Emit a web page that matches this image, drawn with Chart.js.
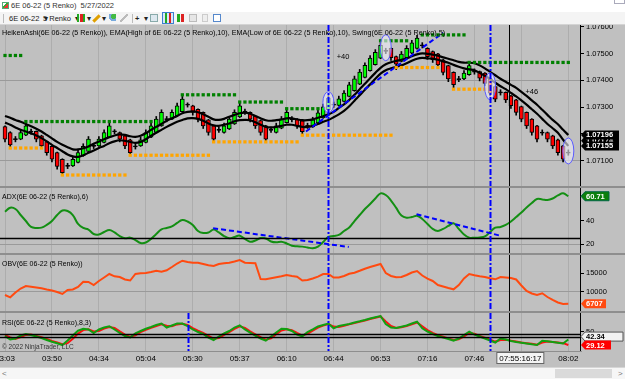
<!DOCTYPE html>
<html>
<head>
<meta charset="utf-8">
<script src="https://cdn.jsdelivr.net/npm/chart.js@4.4.1/dist/chart.umd.min.js"></script>
<style>
*{box-sizing:border-box}
html,body{margin:0;padding:0;width:625px;height:379px;overflow:hidden;background:#c0c0c0;font-family:'Liberation Sans',Arial,sans-serif;}
canvas{position:absolute;left:0}
.lbl{position:absolute;left:2px;font-size:7px;color:#000;white-space:nowrap;line-height:9px}
.sep{position:absolute;left:0;width:625px;background:#8e8e8e}
#hdr{position:absolute;left:0;top:0;width:625px;height:12px;background:#fff}
#tb{position:absolute;left:0;top:12px;width:625px;height:13px;background:#f4f4f4;border-bottom:1px solid #d4d4d4}
.tbt{position:absolute;top:1px;font-size:7.5px;color:#222;line-height:11px;white-space:nowrap}
.ic{position:absolute;top:2px;width:8px;height:8px}
#sb{position:absolute;left:0;top:367px;width:625px;height:12px;background:#f6f6f6;border-top:1px solid #d6d6d6}
</style>
</head>
<body>
<div id="hdr">
  <div style="position:absolute;left:2px;top:2px;width:7px;height:7px;border:1px solid #5a7;background:linear-gradient(135deg,#fff 40%,#3a3 40%,#3a3 60%,#e33 60%)"></div>
  <div style="position:absolute;left:11px;top:1px;font-size:7.5px;color:#333;line-height:10px;white-space:nowrap">6E 06-22 (5 Renko)&nbsp; 5/27/2022</div>
  <div style="position:absolute;left:614px;top:0;width:11px;height:4px;border:1px solid #aab;border-top:none;background:#fff"></div>
</div>
<div id="tb">
  <div style="position:absolute;left:3px;top:2px;width:1px;height:9px;background:#bbb"></div>
  <div class="tbt" style="left:9px">6E 06-22 &nbsp;▾</div>
  <div class="tbt" style="left:43px">5 Renko &nbsp;▾</div>
  <div class="ic" style="left:77px;background:linear-gradient(to right,#2a2 0 30%,transparent 30% 40%,#d22 40% 70%,transparent 70% 80%,#2a2 80%)"></div>
  <div class="tbt" style="left:87px">▾</div>
  <div class="ic" style="left:92px;width:9px;height:3px;top:5px;background:#e0a000;transform:rotate(-45deg)"></div>
  <div class="tbt" style="left:102px">▾</div>
  <div class="ic" style="left:108px;background:radial-gradient(circle at 70% 30%,#4b4 0 35%,#7ad 36% 60%,transparent 61%)"></div>
  <div class="ic" style="left:120px;background:linear-gradient(135deg,transparent 40%,#bbb 40% 60%,transparent 60%)"></div>
  <div style="position:absolute;left:132px;top:2px;width:1px;height:9px;background:#bbb"></div>
  <div class="tbt" style="left:135px;font-weight:bold">+</div>
  <div class="tbt" style="left:144px">▾</div>
  <div class="ic" style="left:150px;border:1px solid #8aa;background:#dde8ef"></div>
  <div class="ic" style="left:162px;top:0px;width:12px;height:12px;border:1px solid #3c7fd0;background:linear-gradient(to right,#d8e8f8 0 20%,#2a2 20% 40%,#d8e8f8 40% 55%,#d22 55% 75%,#d8e8f8 75%)"></div>
  <div class="ic" style="left:177px;background:linear-gradient(to right,#2a2 0 35%,transparent 35% 55%,#d22 55% 90%,transparent 90%)"></div>
  <div class="ic" style="left:189px;border:1px solid #bbb;background:#e6e6e6"></div>
  <div class="ic" style="left:202px;width:6px;border:1px solid #ccc;background:#eee"></div>
  <div class="ic" style="left:213px;border:1px solid #58c;background:#fff"></div>
</div>

<canvas id="cPrice" width="625" height="161" style="top:25px"></canvas>
<canvas id="cAdx" width="625" height="65" style="top:188px"></canvas>
<canvas id="cObv" width="625" height="56" style="top:255px"></canvas>
<canvas id="cRsi" width="625" height="53" style="top:313px"></canvas>

<div class="sep" style="top:186px;height:2px"></div>
<div class="sep" style="top:253px;height:2px"></div>
<div class="sep" style="top:311px;height:2px"></div>
<div class="sep" style="top:351px;height:1px;width:582px"></div>

<div class="lbl" style="top:28px;font-size:7.2px">HeikenAshi(6E 06-22 (5 Renko)), EMA(High of 6E 06-22 (5 Renko),10), EMA(Low of 6E 06-22 (5 Renko),10), Swing(6E 06-22 (5 Renko),5)</div>
<div class="lbl" style="top:192px">ADX(6E 06-22 (5 Renko),6)</div>
<div class="lbl" style="top:259px">OBV(6E 06-22 (5 Renko))</div>
<div class="lbl" style="top:318px">RSI(6E 06-22 (5 Renko),8,3)</div>
<div class="lbl" style="top:342px;font-size:6.5px;color:#333">© 2022 NinjaTrader, LLC</div>

<div id="sb">
  <div style="position:absolute;left:2px;top:0;font-size:8px;color:#777;line-height:11px">&lt;</div>
  <div style="position:absolute;left:555px;top:1px;width:57px;height:9px;background:#dadada"></div>
  <div style="position:absolute;left:618px;top:0;font-size:8px;color:#777;line-height:11px">&gt;</div>
</div>

<script>
const FONT = "'Liberation Sans', Arial, sans-serif";
Chart.defaults.font.family = FONT;

// ---------- data (one entry per Renko bar) ----------
const barIdx = Array.from({length:109}, (_, i) => i);
const timeTickBars = [0,9,18,27,36,45,54,63,72,81,90,99,108];
const timeLabels = ['03:03','03:50','04:34','05:04','05:30','05:37','06:10','06:44','06:53','07:16','07:46','','08:02'];

const openP = [1.07227,1.07205,1.07182,1.07180,1.07195,1.07210,1.07209,1.07193,1.07171,1.07153,
1.07130,1.07105,1.07082,1.07080,1.07093,1.07118,1.07134,1.07157,1.07155,1.07168,
1.07188,1.07211,1.07205,1.07193,1.07178,1.07155,1.07155,1.07168,1.07188,1.07205,
1.07230,1.07257,1.07255,1.07267,1.07283,1.07311,1.07305,1.07292,1.07280,1.07252,
1.07230,1.07217,1.07205,1.07218,1.07237,1.07263,1.07285,1.07280,1.07267,1.07250,
1.07230,1.07217,1.07205,1.07221,1.07242,1.07257,1.07255,1.07249,1.07232,1.07226,
1.07241,1.07260,1.07290,1.07311,1.07306,1.07321,1.07340,1.07361,1.07386,1.07411,
1.07436,1.07459,1.07483,1.07512,1.07520,1.07489,1.07471,1.07485,1.07502,1.07519,
1.07533,1.07520,1.07508,1.07499,1.07477,1.07455,1.07430,1.07407,1.07405,1.07421,
1.07435,1.07433,1.07427,1.07408,1.07377,1.07357,1.07355,1.07342,1.07327,1.07302,
1.07280,1.07255,1.07230,1.07207,1.07205,1.07193,1.07178,1.07155,1.07132];
const closeP = [1.07180,1.07159,1.07178,1.07205,1.07230,1.07206,1.07180,1.07155,1.07130,1.07105,
1.07078,1.07055,1.07078,1.07105,1.07130,1.07153,1.07180,1.07153,1.07180,1.07205,
1.07230,1.07207,1.07180,1.07155,1.07130,1.07151,1.07178,1.07205,1.07230,1.07255,
1.07280,1.07253,1.07280,1.07305,1.07330,1.07307,1.07280,1.07255,1.07230,1.07205,
1.07180,1.07213,1.07230,1.07255,1.07280,1.07305,1.07281,1.07255,1.07230,1.07205,
1.07180,1.07213,1.07230,1.07255,1.07280,1.07253,1.07230,1.07208,1.07228,1.07252,
1.07279,1.07301,1.07334,1.07307,1.07331,1.07352,1.07383,1.07406,1.07431,1.07456,
1.07483,1.07505,1.07531,1.07508,1.07485,1.07461,1.07498,1.07520,1.07540,1.07558,
1.07529,1.07489,1.07477,1.07458,1.07430,1.07405,1.07384,1.07403,1.07427,1.07455,
1.07431,1.07408,1.07389,1.07352,1.07330,1.07353,1.07327,1.07305,1.07280,1.07255,
1.07230,1.07205,1.07180,1.07203,1.07180,1.07155,1.07130,1.07105,1.07128];
const highP = [1.07230,1.07208,1.07190,1.07215,1.07240,1.07218,1.07211,1.07195,1.07173,1.07155,
1.07132,1.07107,1.07090,1.07115,1.07140,1.07163,1.07190,1.07165,1.07190,1.07215,
1.07240,1.07216,1.07207,1.07195,1.07180,1.07163,1.07188,1.07215,1.07240,1.07265,
1.07290,1.07265,1.07290,1.07315,1.07340,1.07316,1.07307,1.07294,1.07282,1.07254,
1.07232,1.07225,1.07240,1.07265,1.07290,1.07315,1.07293,1.07282,1.07269,1.07252,
1.07232,1.07225,1.07240,1.07265,1.07290,1.07265,1.07257,1.07251,1.07240,1.07262,
1.07289,1.07311,1.07344,1.07319,1.07341,1.07362,1.07393,1.07416,1.07441,1.07466,
1.07493,1.07515,1.07541,1.07520,1.07522,1.07491,1.07508,1.07530,1.07550,1.07568,
1.07541,1.07522,1.07510,1.07501,1.07479,1.07457,1.07432,1.07415,1.07437,1.07465,
1.07443,1.07435,1.07429,1.07410,1.07379,1.07365,1.07357,1.07344,1.07329,1.07304,
1.07282,1.07257,1.07232,1.07215,1.07207,1.07195,1.07180,1.07157,1.07140];
const lowP = [1.07170,1.07150,1.07170,1.07178,1.07193,1.07198,1.07170,1.07145,1.07120,1.07095,
1.07068,1.07045,1.07070,1.07078,1.07091,1.07116,1.07132,1.07145,1.07153,1.07166,
1.07186,1.07200,1.07170,1.07145,1.07120,1.07143,1.07153,1.07166,1.07186,1.07203,
1.07228,1.07245,1.07253,1.07265,1.07281,1.07300,1.07270,1.07245,1.07220,1.07195,
1.07170,1.07205,1.07203,1.07216,1.07235,1.07261,1.07273,1.07245,1.07220,1.07195,
1.07170,1.07205,1.07203,1.07219,1.07240,1.07245,1.07220,1.07195,1.07220,1.07224,
1.07239,1.07258,1.07288,1.07299,1.07304,1.07319,1.07338,1.07359,1.07384,1.07409,
1.07434,1.07457,1.07481,1.07500,1.07475,1.07440,1.07469,1.07483,1.07500,1.07517,
1.07521,1.07479,1.07467,1.07448,1.07420,1.07395,1.07370,1.07395,1.07403,1.07419,
1.07423,1.07398,1.07379,1.07342,1.07320,1.07345,1.07317,1.07295,1.07270,1.07245,
1.07220,1.07195,1.07170,1.07195,1.07170,1.07145,1.07120,1.07095,1.07120];
const emaHigh = [1.07267,1.07260,1.07252,1.07245,1.07237,1.07228,1.07219,1.07209,1.07196,1.07183,
1.07170,1.07159,1.07150,1.07142,1.07142,1.07146,1.07153,1.07163,1.07171,1.07180,
1.07187,1.07194,1.07198,1.07196,1.07191,1.07189,1.07193,1.07202,1.07215,1.07226,
1.07237,1.07249,1.07258,1.07267,1.07277,1.07282,1.07284,1.07281,1.07273,1.07264,
1.07254,1.07252,1.07256,1.07264,1.07271,1.07277,1.07279,1.07275,1.07267,1.07258,
1.07251,1.07249,1.07251,1.07254,1.07258,1.07258,1.07254,1.07251,1.07251,1.07254,
1.07260,1.07266,1.07273,1.07282,1.07297,1.07310,1.07327,1.07346,1.07367,1.07387,
1.07408,1.07428,1.07447,1.07460,1.07468,1.07473,1.07477,1.07482,1.07490,1.07497,
1.07501,1.07499,1.07496,1.07492,1.07486,1.07481,1.07475,1.07469,1.07466,1.07466,
1.07464,1.07456,1.07445,1.07432,1.07419,1.07406,1.07395,1.07383,1.07372,1.07357,
1.07342,1.07325,1.07309,1.07290,1.07271,1.07252,1.07236,1.07215,1.07196];
const emaLow = [1.07242,1.07234,1.07224,1.07215,1.07209,1.07202,1.07194,1.07184,1.07172,1.07159,
1.07147,1.07135,1.07123,1.07116,1.07114,1.07120,1.07129,1.07138,1.07147,1.07155,
1.07165,1.07172,1.07176,1.07174,1.07170,1.07166,1.07170,1.07180,1.07193,1.07204,
1.07215,1.07226,1.07236,1.07245,1.07252,1.07258,1.07259,1.07256,1.07249,1.07239,
1.07232,1.07230,1.07234,1.07239,1.07247,1.07251,1.07252,1.07251,1.07243,1.07234,
1.07226,1.07224,1.07226,1.07230,1.07234,1.07234,1.07230,1.07226,1.07226,1.07230,
1.07237,1.07245,1.07252,1.07262,1.07273,1.07286,1.07303,1.07324,1.07344,1.07365,
1.07385,1.07406,1.07425,1.07438,1.07445,1.07451,1.07456,1.07464,1.07473,1.07481,
1.07484,1.07482,1.07481,1.07477,1.07471,1.07466,1.07458,1.07451,1.07445,1.07441,
1.07438,1.07428,1.07417,1.07405,1.07391,1.07378,1.07367,1.07353,1.07340,1.07325,
1.07309,1.07292,1.07275,1.07256,1.07237,1.07221,1.07204,1.07178,1.07155];
// swing segments: [firstBar, lastBar, price]
const swingHighSegs = [[0,3,1.07493],[4,28,1.07246],[34,44,1.07346],[45,53,1.07319],[54,60,1.07294],[72,77,1.07548],[80,88,1.07570],[89,108,1.07467]];
const swingLowSegs = [[1,7,1.07147],[11,23,1.07046],[24,39,1.07120],[40,56,1.07170],[57,74,1.07195],[75,83,1.07448],[86,92,1.07367]];
const priceTrend = [[57.7,1.07209],[84.0,1.07578]];
const priceTicks = [1.071,1.072,1.073,1.074,1.075,1.076];
const priceGrid = [1.071,1.074];

const adx = [47.6,51.0,49.9,44.8,39.7,34.7,33.8,34.1,36.4,39.7,
44.8,48.6,48.2,44.8,37.2,33.8,32.5,28.7,28.3,30.4,
32.1,30.0,27.0,25.1,25.6,23.6,21.1,21.5,24.5,28.7,
32.7,33.8,35.1,38.1,40.6,39.3,36.4,31.3,29.6,30.0,
32.5,30.0,27.0,25.1,26.2,27.3,24.5,22.2,23.2,25.3,
24.9,22.4,21.7,22.2,20.7,18.8,18.3,18.0,17.3,16.6,
18.0,21.9,26.2,27.0,27.9,31.3,34.2,39.7,44.8,49.9,
54.2,58.8,63.1,61.8,57.1,50.8,44.4,42.5,43.1,44.2,
41.4,37.2,33.0,31.3,33.0,35.5,37.8,33.0,28.3,25.6,
25.6,25.8,26.6,30.4,34.1,34.7,36.4,39.3,43.1,46.9,
51.2,55.0,58.4,58.0,57.5,58.8,61.4,63.2,60.71];
const adxTrend1 = [[39.9,33.6],[65.9,17.7]];
const adxTrend2 = [[78.9,45.4],[94.9,27.3]];

const obv = [9100,8480,9780,10870,11550,11330,11140,10920,10600,10330,
9920,9380,10460,10600,11280,12720,12640,11820,12910,13860,
14810,14180,13990,13320,13040,14810,15000,15080,15350,15710,
15430,15820,16710,17660,18420,18070,17880,17880,17530,17170,
16980,17530,17720,17880,18210,18610,17880,17800,17720,13450,
13370,13640,13910,14180,14540,14270,14080,13040,13180,13590,
14080,14810,14810,13860,13860,14270,14860,15160,15680,16250,
16710,17120,17530,15080,14270,13910,13990,14540,15220,15620,
14400,13530,12910,11820,11410,11000,10650,11820,13590,14810,
14460,14180,13990,13640,13370,13990,13860,13720,13320,11690,
10190,9510,9100,9570,8560,7750,7070,6660,6707];

const rsi = [43.2,37.8,39.3,44.0,46.4,44.8,42.5,40.1,37.0,34.3,
31.8,29.1,36.2,44.0,51.6,54.6,53.5,48.0,53.5,56.6,
58.6,53.5,48.0,43.2,40.9,47.5,51.1,54.6,57.4,60.5,
62.9,56.6,59.7,62.9,62.9,58.9,53.5,49.5,46.4,40.9,
37.0,42.5,47.2,51.1,56.6,60.0,53.5,48.7,44.0,39.3,
35.9,42.5,48.7,54.6,54.2,51.1,45.6,42.8,49.5,53.5,
58.2,60.5,62.9,55.3,58.9,60.5,62.1,64.4,66.3,68.4,
70.7,72.8,74.6,62.1,56.6,55.8,57.9,59.7,62.9,65.7,
55.3,50.3,46.4,43.2,40.9,38.5,35.9,39.3,44.8,50.0,
45.6,42.5,39.3,36.2,33.0,39.3,37.8,35.4,33.8,32.6,
31.5,30.2,29.1,35.9,34.9,33.8,32.6,31.5,37.8];
const rsiAvg = [44.5,41.0,38.5,41.5,45.0,45.5,43.5,41.5,38.5,35.5,
33.0,30.5,32.0,39.0,47.0,52.5,54.0,50.5,51.0,55.0,
57.5,56.0,50.5,45.5,42.0,44.5,49.5,53.0,56.0,59.0,
61.5,59.5,58.5,61.5,62.5,60.5,55.5,51.5,48.0,43.5,
39.0,40.0,45.0,49.5,54.5,58.5,56.0,50.5,46.0,41.5,
37.5,39.5,46.0,52.0,54.0,52.5,48.0,44.0,46.5,51.5,
56.5,59.5,62.0,58.0,57.5,59.5,61.5,63.5,65.5,67.5,
70.0,72.0,74.0,66.0,59.0,56.0,57.0,59.0,61.5,64.5,
58.5,52.5,48.0,44.5,42.0,39.5,37.0,38.0,42.5,48.0,
47.0,43.5,40.5,37.5,34.5,37.0,37.5,36.0,34.5,33.0,
32.0,31.0,29.5,33.0,34.5,34.0,33.0,32.0,29.12];
const rsiLevels = [45.9, 42.34];

// markers
const blueSignalBars = [61.9, 93.0];
const rsiOnlySignalBar = 35.0;
const crosshairBar = 96.6;
const ellipses = [{bar:62,price:1.07318,ry:10.5},{bar:73,price:1.07522,ry:13},{bar:93,price:1.07378,ry:13.5},{bar:108,price:1.07136,ry:13}];
const priceNotes = [{text:'+40',bar:64.8,price:1.07488},{text:'+46',bar:101,price:1.07357}];

// ---------- helpers ----------
const X_MIN = -0.96, X_MAX = 110.24;
function segPoints(segs){ const out=[]; segs.forEach(s=>{ for(let i=s[0];i<=s[1];i++) out.push({x:i,y:s[2]}); }); return out; }
function pts(arr){ return barIdx.map(i=>({x:i,y:arr[i]})); }
function pairPts(p){ return p.map(q=>({x:q[0],y:q[1]})); }

function mkX(show){
  return {type:'linear', min:X_MIN, max:X_MAX, offset:false,
    afterBuildTicks:s=>{ s.ticks = timeTickBars.map(v=>({value:v})); },
    ticks:{display:show, autoSkip:false, maxRotation:0, minRotation:0, color:'#000', font:{size:8}, padding:3, callback:(v,i)=>timeLabels[i]},
    grid:{color:'#adadad', lineWidth:1, drawTicks:false, offset:false},
    border:{display:false},
    afterFit:s=>{ s.height = show ? 15 : 0; s.paddingLeft=0; s.paddingRight=0; }
  };
}
function mkY(min,max,ticks,grids,fmt){
  return {type:'linear', position:'right', min:min, max:max,
    afterBuildTicks:s=>{ s.ticks = ticks.map(v=>({value:v})); },
    ticks:{color:'#000', font:{size:7.5}, padding:2, callback:fmt},
    grid:{color:c=> (c.tick && grids.some(g=>Math.abs(g-c.tick.value)<1e-9)) ? '#9a9a9a' : 'rgba(0,0,0,0)', tickColor:'#000', tickLength:4, lineWidth:1},
    border:{display:true, color:'#000', width:1},
    afterFit:s=>{ s.width = 45; s.paddingTop=0; s.paddingBottom=0; }
  };
}
function drawBox(ctx, x, y, w, text, bg, fg, border){
  const h = 9;
  ctx.save();
  ctx.beginPath();
  ctx.moveTo(x, y); ctx.lineTo(x+4, y-h/2); ctx.lineTo(x+w, y-h/2); ctx.lineTo(x+w, y+h/2); ctx.lineTo(x+4, y+h/2); ctx.closePath();
  ctx.fillStyle = bg; ctx.fill();
  if (border){ ctx.strokeStyle = border; ctx.lineWidth = 1; ctx.stroke(); }
  ctx.fillStyle = fg; ctx.font = 'bold 7.5px ' + FONT; ctx.textBaseline = 'middle'; ctx.textAlign = 'left';
  ctx.fillText(text, x+5, y+0.5);
  ctx.restore();
}
const overlay = {
  id:'overlay',
  afterDatasetsDraw(chart, args, o){
    const ctx = chart.ctx, a = chart.chartArea, xs = chart.scales.x, ys = chart.scales.y;
    ctx.save();
    ctx.beginPath(); ctx.rect(a.left, a.top, a.right-a.left, a.bottom-a.top); ctx.clip();
    (o.hlines||[]).forEach(h=>{
      const y = Math.round(ys.getPixelForValue(h.v)) + 0.5;
      ctx.strokeStyle = h.c; ctx.lineWidth = h.w; ctx.setLineDash([]);
      ctx.beginPath(); ctx.moveTo(a.left, y); ctx.lineTo(a.right, y); ctx.stroke();
    });
    (o.ellipses||[]).forEach(e=>{
      const cx = xs.getPixelForValue(e.bar), cy = ys.getPixelForValue(e.price);
      ctx.beginPath(); ctx.ellipse(cx, cy, 5.5, e.ry, 0, 0, Math.PI*2);
      ctx.fillStyle = 'rgba(238,238,250,0.6)'; ctx.fill();
      ctx.strokeStyle = '#5a5aff'; ctx.lineWidth = 1; ctx.setLineDash([]); ctx.stroke();
    });
    (o.texts||[]).forEach(t=>{
      ctx.fillStyle = '#000'; ctx.font = '7.5px ' + FONT; ctx.textAlign = 'center'; ctx.textBaseline = 'middle';
      ctx.fillText(t.text, xs.getPixelForValue(t.bar), ys.getPixelForValue(t.price));
    });
    (o.vlines||[]).forEach(v=>{
      const x = Math.round(xs.getPixelForValue(v.bar)) + 0.5;
      ctx.strokeStyle = v.c; ctx.lineWidth = v.w; ctx.setLineDash(v.dash || []);
      ctx.beginPath(); ctx.moveTo(x, a.top); ctx.lineTo(x, a.bottom); ctx.stroke();
    });
    ctx.restore();
  },
  afterDraw(chart, args, o){
    const ctx = chart.ctx, a = chart.chartArea, ys = chart.scales.y, xs = chart.scales.x;
    (o.boxes||[]).forEach(b=> drawBox(ctx, a.right+1, ys.getPixelForValue(b.v), b.w, b.text, b.bg, b.fg, b.border));
    if (o.xBox){
      const cx = xs.getPixelForValue(o.xBox.bar);
      ctx.save();
      ctx.fillStyle = '#f4f4f4'; ctx.strokeStyle = '#666'; ctx.lineWidth = 1;
      ctx.fillRect(cx-23.5, a.bottom+1.5, 47, 11); ctx.strokeRect(cx-23.5, a.bottom+1.5, 47, 11);
      ctx.fillStyle = '#000'; ctx.font = '8px ' + FONT; ctx.textAlign = 'center'; ctx.textBaseline = 'middle';
      ctx.fillText(o.xBox.text, cx, a.bottom+7.5);
      ctx.restore();
    }
  }
};
Chart.register(overlay);

const signalLines = blueSignalBars.map(b=>({bar:b, c:'#0000ff', w:2, dash:[6,2,2,2]}));
const crossLine = {bar:crosshairBar, c:'#000', w:1};
const baseOpts = {responsive:false, animation:false, events:[], layout:{padding:0, autoPadding:false},
  plugins:{legend:{display:false}, tooltip:{enabled:false}}};

// ---------- price panel ----------
const bodyColors = barIdx.map(i => closeP[i] > openP[i] + 0.00005 ? '#00ff00' : (closeP[i] < openP[i] - 0.00005 ? '#ff0000' : '#000'));
new Chart(document.getElementById('cPrice'), {
  type:'bar',
  data:{datasets:[
    {type:'bar', data:barIdx.map(i=>({x:i, y:[lowP[i], highP[i]]})), backgroundColor:'#000', barThickness:1, grouped:false, borderWidth:0, order:6},
    {type:'bar', data:barIdx.map(i=>({x:i, y:[openP[i], closeP[i]]})), backgroundColor:bodyColors, borderColor:'#000', borderWidth:1, borderSkipped:false, barThickness:4, grouped:false, order:5},
    {type:'line', data:pts(emaHigh), borderColor:'#000', borderWidth:2.2, pointRadius:0, tension:0.3, order:3},
    {type:'line', data:pts(emaLow), borderColor:'#000', borderWidth:2.2, pointRadius:0, tension:0.3, order:3},
    {type:'line', data:segPoints(swingHighSegs), showLine:false, pointStyle:'rect', pointRadius:2.3, pointBackgroundColor:'#008000', pointBorderWidth:0, order:1},
    {type:'line', data:segPoints(swingLowSegs), showLine:false, pointStyle:'rect', pointRadius:2.3, pointBackgroundColor:'#ffa500', pointBorderWidth:0, order:1},
    {type:'line', data:pairPts(priceTrend), borderColor:'#0000ff', borderWidth:2, borderDash:[5,3], pointRadius:0, order:2}
  ]},
  options:Object.assign({}, baseOpts, {
    scales:{x:mkX(false), y:mkY(1.07005, 1.07607, priceTicks, priceGrid, v=>v.toFixed(5))},
    plugins:Object.assign({}, baseOpts.plugins, {overlay:{
      ellipses:ellipses, texts:priceNotes, vlines:signalLines.concat([crossLine]),
      boxes:[{v:1.07174,text:'1.07174',w:38,bg:'#000',fg:'#fff'},{v:emaHigh[108],text:'1.07196',w:38,bg:'#000',fg:'#fff'},{v:emaLow[108],text:'1.07155',w:38,bg:'#000',fg:'#fff'}]
    }})
  })
});

// ---------- ADX ----------
new Chart(document.getElementById('cAdx'), {
  type:'line',
  data:{datasets:[
    {data:pts(adx), borderColor:'#138f13', borderWidth:2, pointRadius:0, tension:0.4, order:2},
    {data:pairPts(adxTrend1), borderColor:'#0000ff', borderWidth:2, borderDash:[5,3], pointRadius:0, order:1},
    {data:pairPts(adxTrend2), borderColor:'#0000ff', borderWidth:2, borderDash:[5,3], pointRadius:0, order:1}
  ]},
  options:Object.assign({}, baseOpts, {
    scales:{x:mkX(false), y:mkY(12.6, 67.7, [20,40], [20], v=>String(v))},
    plugins:Object.assign({}, baseOpts.plugins, {overlay:{
      hlines:[{v:25, c:'#000', w:1.5}], vlines:signalLines.concat([crossLine]),
      boxes:[{v:adx[108], text:'60.71', w:28, bg:'#0b7f0b', fg:'#fff', border:'#064'}]
    }})
  })
});

// ---------- OBV ----------
new Chart(document.getElementById('cObv'), {
  type:'line',
  data:{datasets:[
    {data:pts(obv), borderColor:'#ff4a10', borderWidth:2, pointRadius:0, tension:0}
  ]},
  options:Object.assign({}, baseOpts, {
    scales:{x:mkX(false), y:mkY(4756, 19972, [10000,15000], [10000], v=>String(v))},
    plugins:Object.assign({}, baseOpts.plugins, {overlay:{
      vlines:signalLines.concat([crossLine]),
      boxes:[{v:obv[108], text:'6707', w:25, bg:'#ff4a10', fg:'#fff'}]
    }})
  })
});

// ---------- RSI ----------
new Chart(document.getElementById('cRsi'), {
  type:'line',
  data:{datasets:[
    {data:pts(rsi), borderColor:'#10a010', borderWidth:2, pointRadius:0, tension:0, order:1},
    {data:pts(rsiAvg), borderColor:'#ff1010', borderWidth:2, pointRadius:0, tension:0, order:2}
  ]},
  options:Object.assign({}, baseOpts, {
    scales:{x:mkX(true), y:mkY(19.7, 79.4, [50], [], v=>String(v))},
    plugins:Object.assign({}, baseOpts.plugins, {overlay:{
      hlines:rsiLevels.map(v=>({v:v, c:'#000', w:1.5})),
      vlines:signalLines.concat([{bar:rsiOnlySignalBar, c:'#0000ff', w:2, dash:[6,2,2,2]}, crossLine]),
      boxes:[{v:42.34, text:'42.34', w:42, bg:'#f2f2f2', fg:'#000', border:'#555'},{v:rsiAvg[108], text:'29.12', w:30, bg:'#ff0000', fg:'#fff'}],
      xBox:{bar:98.8, text:'07:55:16:17'}
    }})
  })
});
</script>
</body>
</html>
